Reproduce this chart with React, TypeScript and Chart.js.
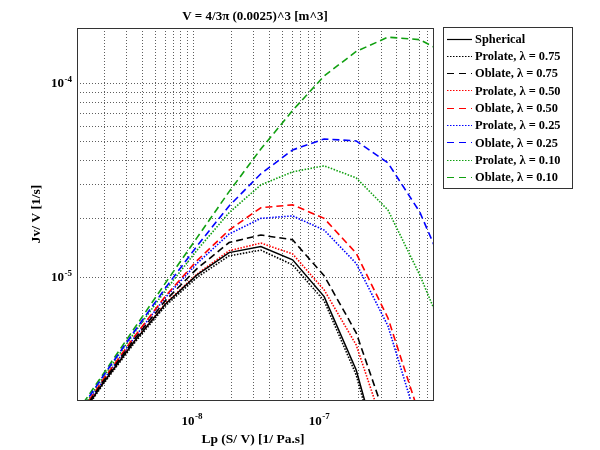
import React, { useEffect, useRef } from "react";
import { Chart, registerables } from "chart.js";

Chart.register(...registerables);

// Lp (S/V) sample points [1/Pa.s]
const lpValues = [1.1e-9, 1.95e-9, 3.45e-9, 6.1e-9, 1.08e-8, 1.93e-8, 3.43e-8, 6.1e-8, 1.08e-7, 1.93e-7, 3.43e-7, 6.1e-7, 1.08e-6];

// Jv/V [1/s]
const spherical = [1.61e-6, 2.79e-6, 4.6e-6, 7.22e-6, 1.02e-5, 1.33e-5, 1.43e-5, 1.22e-5, 7.88e-6, 3.29e-6, 8.4e-7];
const prolate075 = [1.59e-6, 2.75e-6, 4.51e-6, 7.06e-6, 9.91e-6, 1.28e-5, 1.37e-5, 1.15e-5, 7.49e-6, 3.1e-6, 7.9e-7];
const oblate075 = [1.63e-6, 2.84e-6, 4.72e-6, 7.53e-6, 1.1e-5, 1.5e-5, 1.64e-5, 1.55e-5, 1.01e-5, 5.12e-6, 1.71e-6];
const prolate050 = [1.62e-6, 2.8e-6, 4.62e-6, 7.28e-6, 1.03e-5, 1.36e-5, 1.49e-5, 1.31e-5, 8.53e-6, 4.43e-6, 1.43e-6];
const oblate050 = [1.66e-6, 2.9e-6, 4.87e-6, 7.93e-6, 1.21e-5, 1.74e-5, 2.27e-5, 2.35e-5, 2.0e-5, 1.32e-5, 6.11e-6, 1.9e-6];
const prolate025 = [1.67e-6, 2.88e-6, 4.82e-6, 7.81e-6, 1.17e-5, 1.66e-5, 2.0e-5, 2.06e-5, 1.74e-5, 1.17e-5, 5.56e-6, 1.61e-6];
const oblate025 = [1.73e-6, 3.03e-6, 5.18e-6, 8.74e-6, 1.44e-5, 2.32e-5, 3.4e-5, 4.52e-5, 5.15e-5, 5.03e-5, 3.87e-5, 2.16e-5, 9.06e-6];
const prolate010 = [1.7e-6, 2.99e-6, 5.09e-6, 8.5e-6, 1.37e-5, 2.14e-5, 2.98e-5, 3.48e-5, 3.74e-5, 3.24e-5, 2.21e-5, 1.02e-5, 4.18e-6];
const oblate010 = [1.79e-6, 3.1e-6, 5.37e-6, 9.28e-6, 1.59e-5, 2.75e-5, 4.57e-5, 7.23e-5, 1.09e-4, 1.46e-4, 1.73e-4, 1.68e-4, 1.38e-4];

const seriesNames = [
  "Spherical",
  "Prolate, λ = 0.75",
  "Oblate, λ = 0.75",
  "Prolate, λ = 0.50",
  "Oblate, λ = 0.50",
  "Prolate, λ = 0.25",
  "Oblate, λ = 0.25",
  "Prolate, λ = 0.10",
  "Oblate, λ = 0.10",
];
const seriesValues = [spherical, prolate075, oblate075, prolate050, oblate050, prolate025, oblate025, prolate010, oblate010];
const seriesColors = ["#000000", "#000000", "#000000", "#ff0000", "#ff0000", "#0000ff", "#0000ff", "#10a010", "#10a010"];
const seriesStyles = ["solid", "dotted", "dashed", "dotted", "dashed", "dotted", "dashed", "dotted", "dashed"];

// axis ticks / grid
const xGridValues = [2e-9, 3e-9, 4e-9, 5e-9, 6e-9, 7e-9, 8e-9, 9e-9, 1e-8, 2e-8, 3e-8, 4e-8, 5e-8, 6e-8, 7e-8, 8e-8, 9e-8, 1e-7, 2e-7, 3e-7, 4e-7, 5e-7, 6e-7, 7e-7];
const yGridValues = [1e-5, 2e-5, 3e-5, 4e-5, 5e-5, 6e-5, 7e-5, 8e-5, 9e-5, 1e-4];
const xTickLabels = [{ v: 1e-8, exp: "-8" }, { v: 1e-7, exp: "-7" }];
const yTickLabels = [{ v: 1e-5, exp: "-5" }, { v: 1e-4, exp: "-4" }];
const X_MIN = 1.227e-9;
const X_MAX = 7.76e-7;
const Y_MIN = 2.3e-6;
const Y_MAX = 1.93e-4;

const TITLE = "V = 4/3π (0.0025)^3 [m^3]";
const X_LABEL = "Lp (S/ V) [1/ Pa.s]";
const Y_LABEL = "Jv/ V [1/s]";

const FONT = "'Liberation Serif', 'DejaVu Serif', serif";

function dashFor(style: string, legend = false): number[] {
  if (style === "dashed") return legend ? [7, 5] : [7, 4];
  if (style === "dotted") return [1.5, 1.5];
  return [];
}

const overlayPlugin = {
  id: "overlay",
  beforeDatasetsDraw(chart: any) {
    const { ctx, chartArea: a } = chart;
    const xs = chart.scales.x;
    const ys = chart.scales.y;
    ctx.save();
    ctx.strokeStyle = "rgba(40,40,40,0.75)";
    ctx.lineWidth = 1;
    ctx.setLineDash([1, 2]);
    for (const v of xGridValues) {
      const px = Math.round(xs.getPixelForValue(v)) + 0.5;
      if (px <= a.left || px >= a.right) continue;
      ctx.beginPath();
      ctx.moveTo(px, a.top);
      ctx.lineTo(px, a.bottom);
      ctx.stroke();
    }
    for (const v of yGridValues) {
      const py = Math.round(ys.getPixelForValue(v)) + 0.5;
      if (py <= a.top || py >= a.bottom) continue;
      ctx.beginPath();
      ctx.moveTo(a.left, py);
      ctx.lineTo(a.right, py);
      ctx.stroke();
    }
    ctx.restore();
  },
  afterDraw(chart: any) {
    const { ctx, chartArea: a } = chart;
    const xs = chart.scales.x;
    const ys = chart.scales.y;
    ctx.save();
    // plot box
    ctx.setLineDash([]);
    ctx.strokeStyle = "#333";
    ctx.lineWidth = 1;
    ctx.strokeRect(Math.round(a.left) + 0.5, Math.round(a.top) + 0.5, Math.round(a.right - a.left), Math.round(a.bottom - a.top));

    ctx.fillStyle = "#000";
    // y tick labels
    for (const t of yTickLabels) {
      const py = ys.getPixelForValue(t.v);
      ctx.font = `bold 9px ${FONT}`;
      const wSup = ctx.measureText(t.exp).width;
      ctx.textAlign = "left";
      ctx.textBaseline = "alphabetic";
      const right = a.left - 5;
      ctx.fillText(t.exp, right - wSup, py - 1);
      ctx.font = `bold 13px ${FONT}`;
      const w10 = ctx.measureText("10").width;
      ctx.fillText("10", right - wSup - w10 - 0.5, py + 4);
    }
    // x tick labels
    for (const t of xTickLabels) {
      const px = xs.getPixelForValue(t.v);
      ctx.font = `bold 13px ${FONT}`;
      const w10 = ctx.measureText("10").width;
      ctx.font = `bold 9px ${FONT}`;
      const wSup = ctx.measureText(t.exp).width;
      const start = px - (w10 + wSup) / 2 - 1;
      ctx.textAlign = "left";
      ctx.textBaseline = "alphabetic";
      ctx.font = `bold 13px ${FONT}`;
      ctx.fillText("10", start, a.bottom + 25);
      ctx.font = `bold 9px ${FONT}`;
      ctx.fillText(t.exp, start + w10 + 0.5, a.bottom + 19);
    }
    // title
    ctx.font = `bold 13px ${FONT}`;
    ctx.textAlign = "center";
    ctx.textBaseline = "middle";
    ctx.fillText(TITLE, (a.left + a.right) / 2, 17);
    // x label
    ctx.font = `bold 13.5px ${FONT}`;
    ctx.fillText(X_LABEL, (a.left + a.right) / 2 - 2, 440);
    // y label
    ctx.save();
    ctx.translate(37, (a.top + a.bottom) / 2);
    ctx.rotate(-Math.PI / 2);
    ctx.fillText(Y_LABEL, 0, 0);
    ctx.restore();

    // legend
    const lx = 443, ly = 27, lw = 129, lh = 161;
    ctx.fillStyle = "#fff";
    ctx.fillRect(lx, ly, lw, lh);
    ctx.strokeStyle = "#333";
    ctx.lineWidth = 1;
    ctx.setLineDash([]);
    ctx.strokeRect(lx + 0.5, ly + 0.5, lw, lh);
    for (let i = 0; i < seriesNames.length; i++) {
      const cy = 38.5 + i * 17.3;
      ctx.strokeStyle = seriesColors[i];
      ctx.lineWidth = seriesStyles[i] === "solid" ? 1.2 : 1;
      ctx.setLineDash(dashFor(seriesStyles[i], true));
      ctx.beginPath();
      ctx.moveTo(lx + 4, Math.round(cy) + 0.5);
      ctx.lineTo(lx + 29, Math.round(cy) + 0.5);
      ctx.stroke();
      ctx.setLineDash([]);
      ctx.fillStyle = "#000";
      ctx.font = `bold 12.4px ${FONT}`;
      ctx.textAlign = "left";
      ctx.textBaseline = "middle";
      ctx.fillText(seriesNames[i], lx + 32, cy + 1);
    }
    ctx.restore();
  },
};

export default function App() {
  const canvasRef = useRef<HTMLCanvasElement | null>(null);

  useEffect(() => {
    const canvas = canvasRef.current;
    if (!canvas) return;
    const datasets = seriesNames.map((name, i) => ({
      label: name,
      data: seriesValues[i].map((y, j) => ({ x: lpValues[j], y })),
      borderColor: seriesColors[i],
      backgroundColor: seriesColors[i],
      borderWidth: seriesStyles[i] === "solid" ? 1.5 : 1.6,
      borderDash: dashFor(seriesStyles[i]),
      pointRadius: 0,
      tension: 0,
      fill: false,
    }));
    const chart = new Chart(canvas, {
      type: "line",
      data: { datasets },
      options: {
        responsive: false,
        animation: false,
        events: [],
        layout: { padding: { left: 77, right: 167, top: 28, bottom: 50 } },
        plugins: { legend: { display: false }, tooltip: { enabled: false }, title: { display: false } },
        scales: {
          x: {
            type: "logarithmic",
            min: X_MIN,
            max: X_MAX,
            grid: { display: false, drawTicks: false },
            border: { display: false },
            ticks: { display: false },
            afterFit: (s: any) => { s.height = 0; },
          },
          y: {
            type: "logarithmic",
            min: Y_MIN,
            max: Y_MAX,
            grid: { display: false, drawTicks: false },
            border: { display: false },
            ticks: { display: false },
            afterFit: (s: any) => { s.width = 0; },
          },
        },
      },
      plugins: [overlayPlugin],
    } as any);
    return () => chart.destroy();
  }, []);

  return (
    <div style={{ position: "fixed", left: 0, top: 0, width: 600, height: 450, background: "#fff" }}>
      <canvas ref={canvasRef} width={600} height={450} style={{ display: "block" }} />
    </div>
  );
}
